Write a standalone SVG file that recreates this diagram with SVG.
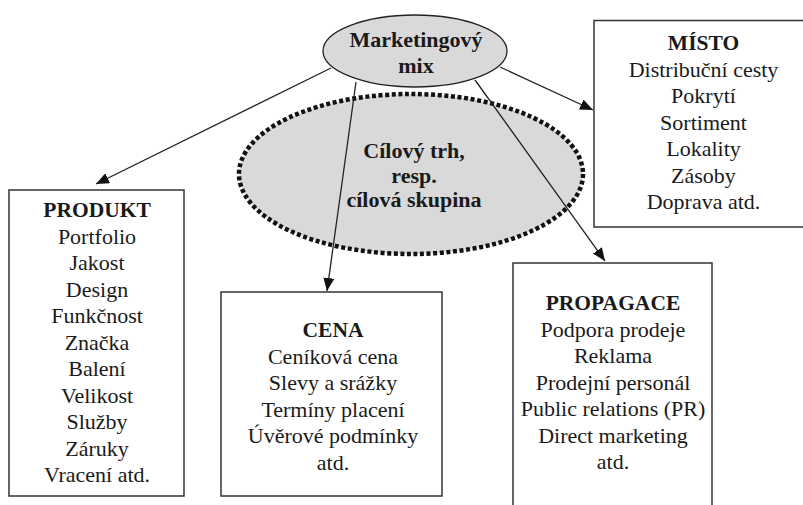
<svg xmlns="http://www.w3.org/2000/svg" width="803" height="505" viewBox="0 0 803 505">
<style>
.box{fill:#fff;stroke:#333;stroke-width:1.5}
.ell{fill:#d9d9d9;stroke:#222;stroke-width:1.3}
.dot{fill:#d9d9d9;stroke:#111;stroke-width:4.5;stroke-dasharray:4 2.6}
.t{font-family:"Liberation Serif","Times New Roman","DejaVu Serif",serif;font-size:22px;fill:#1a1a1a;text-anchor:middle}
.b{font-weight:bold;font-size:21.5px}
.e{font-weight:bold;font-size:22px}
.ln{stroke:#222;stroke-width:1.3;fill:none;marker-end:url(#ah)}
</style>
<defs>
<marker id="ah" markerUnits="userSpaceOnUse" markerWidth="13" markerHeight="11" refX="13" refY="5.5" orient="auto">
<path d="M0,0 L13,5.5 L0,11 z" fill="#111"/>
</marker>
</defs>
<rect width="803" height="505" fill="#fff"/>
<g id="cilovy-trh">
<ellipse class="dot" cx="411" cy="174" rx="172" ry="80"/>
<text class="t e" x="414" y="158">Cílový trh,</text>
<text class="t e" x="414" y="183">resp.</text>
<text class="t e" x="414" y="207">cílová skupina</text>
</g>
<g id="marketingovy-mix">
<ellipse class="ell" cx="415" cy="51" rx="92" ry="36"/>
<text class="t e" x="416" y="47">Marketingový</text>
<text class="t e" x="416" y="72.5">mix</text>
</g>
<g id="produkt">
<rect class="box" x="9" y="190" width="175" height="306"/>
<text class="t b" x="97" y="217">PRODUKT</text>
<text class="t" x="97" y="243.5">Portfolio</text>
<text class="t" x="97" y="270">Jakost</text>
<text class="t" x="97" y="296.5">Design</text>
<text class="t" x="97" y="323">Funkčnost</text>
<text class="t" x="97" y="349.5">Značka</text>
<text class="t" x="97" y="376">Balení</text>
<text class="t" x="97" y="402.5">Velikost</text>
<text class="t" x="97" y="429">Služby</text>
<text class="t" x="97" y="455.5">Záruky</text>
<text class="t" x="97" y="482">Vracení atd.</text>
</g>
<g id="cena">
<rect class="box" x="221" y="292" width="221" height="204"/>
<text class="t b" x="333" y="337">CENA</text>
<text class="t" x="333" y="363.5">Ceníková cena</text>
<text class="t" x="333" y="390">Slevy a srážky</text>
<text class="t" x="333" y="416.5">Termíny placení</text>
<text class="t" x="333" y="443">Úvěrové podmínky</text>
<text class="t" x="333" y="469.5">atd.</text>
</g>
<g id="propagace">
<rect class="box" x="513" y="263" width="199" height="260"/>
<text class="t b" x="613" y="310">PROPAGACE</text>
<text class="t" x="613" y="336.5">Podpora prodeje</text>
<text class="t" x="613" y="363">Reklama</text>
<text class="t" x="613" y="389.5">Prodejní personál</text>
<text class="t" x="613" y="416">Public relations (PR)</text>
<text class="t" x="613" y="442.5">Direct marketing</text>
<text class="t" x="613" y="469">atd.</text>
</g>
<g id="misto">
<rect class="box" x="594" y="20.5" width="225" height="206.5"/>
<text class="t b" x="703.5" y="50">MÍSTO</text>
<text class="t" x="703.5" y="76.5">Distribuční cesty</text>
<text class="t" x="703.5" y="103">Pokrytí</text>
<text class="t" x="703.5" y="129.5">Sortiment</text>
<text class="t" x="703.5" y="156">Lokality</text>
<text class="t" x="703.5" y="182.5">Zásoby</text>
<text class="t" x="703.5" y="209">Doprava atd.</text>
</g>
<g id="connectors">
<line class="ln" x1="331" y1="68" x2="96" y2="184"/>
<line class="ln" x1="356" y1="82" x2="327" y2="291"/>
<line class="ln" x1="475" y1="80" x2="605" y2="261"/>
<line class="ln" x1="500" y1="67" x2="593" y2="110"/>
</g>
</svg>
